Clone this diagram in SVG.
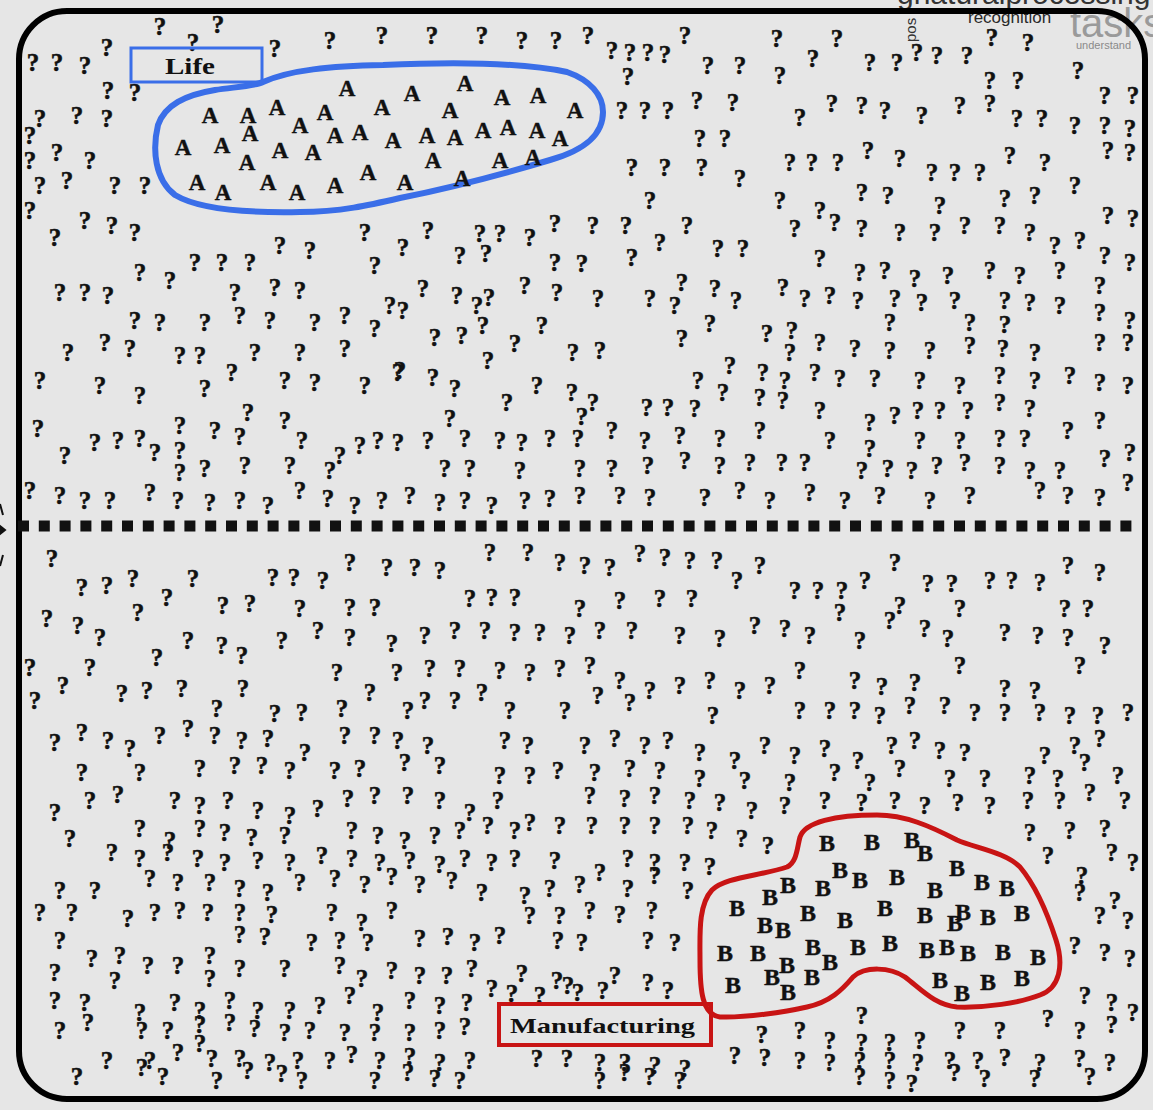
<svg xmlns="http://www.w3.org/2000/svg" width="1153" height="1110" viewBox="0 0 1153 1110">
<style>
.q text{font-family:"Liberation Serif","DejaVu Serif",serif;font-weight:bold;font-size:25px;fill:#111;stroke:#111;stroke-width:0.5;text-anchor:middle}
.a text{font-family:"Liberation Serif","DejaVu Serif",serif;font-weight:bold;font-size:23px;fill:#111;stroke:#111;stroke-width:0.4;text-anchor:middle}
.b text{font-family:"Liberation Serif","DejaVu Serif",serif;font-weight:bold;font-size:24px;fill:#111;stroke:#111;stroke-width:0.4;text-anchor:middle}
.lbl{font-family:"Liberation Serif","DejaVu Serif",serif;font-weight:bold;fill:#111}
.ov{font-family:"Liberation Sans","DejaVu Sans",sans-serif}
</style>
<rect x="0" y="0" width="1153" height="1110" fill="#e6e6e6"/>
<g id="overlay-text">
<text class="ov" x="897" y="4" font-size="30" fill="#333">gnaturalprocessing</text>
<text class="ov" x="968" y="23" font-size="17" fill="#2a2a2a">recognition</text>
<text class="ov" x="1070" y="37" font-size="40" fill="#9a9a9a">tasks</text>
<text class="ov" x="1076" y="49" font-size="11" fill="#8a8a8a">understand</text>
<text class="ov" transform="translate(916,42) rotate(-90)" font-size="15" fill="#333">pos</text>
</g>
<g id="left-marks" fill="none" stroke="#111" stroke-width="2">
<path d="M0,504 L3,515"/>
<path d="M0,526 L5,530 L0,534 Z" fill="#111"/>
<path d="M0,566 L3,555"/>
</g>
<g id="frame">
<rect x="19" y="11" width="1126" height="1088" rx="48" fill="none" stroke="#000" stroke-width="6"/>
</g>
<g id="divider">
<line x1="18" y1="526" x2="1140" y2="526" stroke="#111" stroke-width="11" stroke-dasharray="11 9.8"/>
</g>
<g id="unknown-words" class="q" transform="translate(0,9)">
<text x="160" y="26">?</text><text x="218" y="24">?</text><text x="107" y="47">?</text><text x="193" y="42">?</text><text x="275" y="48">?</text><text x="330" y="40">?</text><text x="382" y="35">?</text><text x="432" y="35">?</text><text x="482" y="35">?</text><text x="522" y="40">?</text><text x="556" y="40">?</text><text x="588" y="35">?</text><text x="612" y="50">?</text><text x="630" y="52">?</text><text x="648" y="52">?</text><text x="665" y="54">?</text><text x="685" y="35">?</text><text x="708" y="65">?</text><text x="740" y="65">?</text><text x="780" y="75">?</text><text x="777" y="38">?</text><text x="813" y="58">?</text><text x="837" y="38">?</text><text x="870" y="62">?</text><text x="897" y="62">?</text><text x="917" y="52">?</text><text x="937" y="55">?</text><text x="967" y="55">?</text><text x="992" y="37">?</text><text x="1028" y="42">?</text><text x="990" y="80">?</text><text x="1018" y="80">?</text><text x="1078" y="70">?</text><text x="33" y="62">?</text><text x="57" y="62">?</text><text x="85" y="65">?</text><text x="108" y="90">?</text><text x="135" y="92">?</text><text x="40" y="118">?</text><text x="77" y="115">?</text><text x="107" y="118">?</text><text x="628" y="76">?</text>
<text x="622" y="110">?</text><text x="645" y="110">?</text><text x="668" y="110">?</text><text x="697" y="100">?</text><text x="733" y="102">?</text><text x="800" y="117">?</text><text x="832" y="103">?</text><text x="862" y="105">?</text><text x="885" y="110">?</text><text x="922" y="115">?</text><text x="960" y="105">?</text><text x="990" y="103">?</text><text x="1017" y="118">?</text><text x="1042" y="118">?</text><text x="1075" y="125">?</text><text x="1105" y="95">?</text><text x="1133" y="95">?</text><text x="1105" y="125">?</text><text x="1130" y="128">?</text>
<text x="700" y="138">?</text><text x="725" y="138">?</text><text x="632" y="167">?</text><text x="665" y="167">?</text><text x="702" y="167">?</text><text x="740" y="178">?</text><text x="790" y="162">?</text><text x="812" y="162">?</text><text x="838" y="162">?</text><text x="868" y="150">?</text><text x="900" y="158">?</text><text x="932" y="172">?</text><text x="955" y="172">?</text><text x="980" y="172">?</text><text x="1010" y="155">?</text><text x="1045" y="162">?</text><text x="1108" y="150">?</text><text x="1130" y="152">?</text>
<text x="862" y="192">?</text><text x="888" y="195">?</text><text x="1005" y="198">?</text><text x="1035" y="195">?</text><text x="1075" y="185">?</text><text x="1108" y="215">?</text><text x="1133" y="218">?</text><text x="650" y="200">?</text><text x="780" y="200">?</text><text x="820" y="210">?</text><text x="940" y="205">?</text>
<text x="30" y="135">?</text><text x="30" y="160">?</text><text x="57" y="152">?</text><text x="90" y="160">?</text><text x="40" y="185">?</text><text x="67" y="180">?</text><text x="115" y="185">?</text><text x="145" y="185">?</text><text x="30" y="210">?</text>
<text x="55" y="237">?</text><text x="85" y="220">?</text><text x="112" y="225">?</text><text x="135" y="232">?</text><text x="365" y="232">?</text><text x="195" y="262">?</text><text x="222" y="262">?</text><text x="250" y="262">?</text><text x="280" y="245">?</text><text x="310" y="250">?</text><text x="375" y="265">?</text><text x="140" y="272">?</text><text x="170" y="280">?</text><text x="60" y="292">?</text><text x="85" y="292">?</text><text x="108" y="295">?</text><text x="275" y="287">?</text><text x="300" y="290">?</text><text x="235" y="292">?</text><text x="390" y="305">?</text>
<text x="135" y="320">?</text><text x="160" y="322">?</text><text x="205" y="322">?</text><text x="240" y="315">?</text><text x="270" y="320">?</text><text x="315" y="322">?</text><text x="345" y="315">?</text><text x="375" y="328">?</text><text x="68" y="352">?</text><text x="105" y="342">?</text><text x="130" y="348">?</text><text x="180" y="355">?</text><text x="200" y="355">?</text><text x="255" y="352">?</text><text x="345" y="348">?</text><text x="300" y="352">?</text>
<text x="205" y="388">?</text><text x="232" y="372">?</text><text x="285" y="380">?</text><text x="315" y="382">?</text><text x="365" y="385">?</text><text x="398" y="372">?</text><text x="40" y="380">?</text><text x="100" y="385">?</text><text x="140" y="395">?</text><text x="248" y="412">?</text><text x="285" y="420">?</text><text x="302" y="440">?</text><text x="38" y="428">?</text><text x="180" y="425">?</text><text x="215" y="430">?</text><text x="240" y="436">?</text>
<text x="65" y="455">?</text><text x="95" y="442">?</text><text x="118" y="440">?</text><text x="140" y="438">?</text><text x="155" y="452">?</text><text x="180" y="450">?</text><text x="340" y="455">?</text><text x="360" y="445">?</text><text x="378" y="440">?</text><text x="398" y="442">?</text><text x="180" y="472">?</text><text x="205" y="468">?</text><text x="245" y="465">?</text><text x="290" y="465">?</text><text x="330" y="470">?</text>
<text x="30" y="490">?</text><text x="60" y="495">?</text><text x="85" y="500">?</text><text x="110" y="500">?</text><text x="150" y="492">?</text><text x="178" y="500">?</text><text x="210" y="502">?</text><text x="240" y="500">?</text><text x="268" y="505">?</text><text x="300" y="490">?</text><text x="328" y="498">?</text><text x="355" y="505">?</text><text x="382" y="500">?</text>
<text x="428" y="230">?</text><text x="403" y="247">?</text><text x="480" y="233">?</text><text x="500" y="233">?</text><text x="530" y="237">?</text><text x="555" y="223">?</text><text x="593" y="225">?</text><text x="626" y="225">?</text><text x="687" y="225">?</text><text x="795" y="228">?</text><text x="460" y="255">?</text><text x="486" y="253">?</text><text x="555" y="262">?</text><text x="582" y="263">?</text><text x="632" y="257">?</text><text x="660" y="242">?</text><text x="718" y="248">?</text><text x="743" y="248">?</text>
<text x="423" y="288">?</text><text x="457" y="295">?</text><text x="477" y="305">?</text><text x="489" y="297">?</text><text x="525" y="285">?</text><text x="557" y="292">?</text><text x="598" y="298">?</text><text x="650" y="298">?</text><text x="682" y="282">?</text><text x="675" y="305">?</text><text x="715" y="288">?</text><text x="736" y="300">?</text><text x="783" y="287">?</text><text x="403" y="310">?</text><text x="483" y="325">?</text><text x="542" y="325">?</text>
<text x="435" y="337">?</text><text x="462" y="335">?</text><text x="515" y="343">?</text><text x="710" y="323">?</text><text x="767" y="333">?</text><text x="792" y="330">?</text><text x="682" y="338">?</text><text x="573" y="352">?</text><text x="600" y="350">?</text><text x="488" y="360">?</text><text x="790" y="352">?</text><text x="730" y="365">?</text><text x="400" y="370">?</text><text x="433" y="377">?</text><text x="455" y="388">?</text><text x="537" y="385">?</text><text x="572" y="392">?</text><text x="593" y="402">?</text><text x="507" y="402">?</text>
<text x="698" y="380">?</text><text x="723" y="392">?</text><text x="763" y="372">?</text><text x="785" y="380">?</text><text x="760" y="397">?</text><text x="783" y="400">?</text><text x="647" y="407">?</text><text x="668" y="407">?</text><text x="695" y="408">?</text><text x="450" y="418">?</text><text x="582" y="416">?</text>
<text x="410" y="495">?</text><text x="440" y="502">?</text><text x="465" y="500">?</text><text x="492" y="505">?</text><text x="525" y="500">?</text><text x="550" y="498">?</text><text x="580" y="495">?</text><text x="428" y="440">?</text><text x="465" y="438">?</text><text x="500" y="440">?</text><text x="522" y="442">?</text><text x="550" y="438">?</text><text x="578" y="438">?</text><text x="612" y="430">?</text><text x="645" y="440">?</text>
<text x="445" y="468">?</text><text x="470" y="468">?</text><text x="520" y="470">?</text><text x="580" y="468">?</text><text x="612" y="468">?</text><text x="648" y="465">?</text><text x="685" y="460">?</text><text x="720" y="465">?</text><text x="750" y="462">?</text><text x="782" y="462">?</text><text x="620" y="495">?</text><text x="650" y="497">?</text><text x="705" y="497">?</text><text x="740" y="490">?</text><text x="770" y="500">?</text><text x="680" y="435">?</text><text x="720" y="438">?</text><text x="760" y="430">?</text>
<text x="835" y="222">?</text><text x="862" y="228">?</text><text x="900" y="232">?</text><text x="935" y="232">?</text><text x="965" y="225">?</text><text x="1000" y="225">?</text><text x="1030" y="232">?</text><text x="1055" y="245">?</text><text x="1080" y="240">?</text><text x="1105" y="255">?</text><text x="1130" y="262">?</text><text x="860" y="272">?</text><text x="885" y="270">?</text><text x="915" y="278">?</text><text x="948" y="275">?</text><text x="990" y="270">?</text><text x="1020" y="275">?</text><text x="1060" y="270">?</text><text x="1100" y="285">?</text><text x="820" y="258">?</text>
<text x="805" y="298">?</text><text x="830" y="295">?</text><text x="858" y="300">?</text><text x="895" y="298">?</text><text x="922" y="302">?</text><text x="955" y="300">?</text><text x="1005" y="300">?</text><text x="1030" y="302">?</text><text x="1060" y="305">?</text><text x="1100" y="312">?</text><text x="1130" y="320">?</text><text x="890" y="322">?</text><text x="970" y="322">?</text><text x="1005" y="324">?</text>
<text x="820" y="342">?</text><text x="855" y="348">?</text><text x="890" y="350">?</text><text x="930" y="350">?</text><text x="970" y="345">?</text><text x="1003" y="348">?</text><text x="1035" y="352">?</text><text x="1100" y="342">?</text><text x="1128" y="342">?</text><text x="815" y="372">?</text><text x="840" y="378">?</text><text x="875" y="378">?</text><text x="920" y="380">?</text><text x="960" y="385">?</text><text x="1000" y="375">?</text><text x="1035" y="380">?</text><text x="1070" y="375">?</text><text x="1100" y="382">?</text><text x="1128" y="385">?</text>
<text x="870" y="422">?</text><text x="895" y="415">?</text><text x="918" y="410">?</text><text x="940" y="410">?</text><text x="968" y="410">?</text><text x="1000" y="402">?</text><text x="1030" y="408">?</text><text x="820" y="410">?</text><text x="1000" y="438">?</text><text x="1025" y="438">?</text><text x="1068" y="430">?</text><text x="1105" y="458">?</text><text x="1130" y="452">?</text><text x="830" y="440">?</text><text x="870" y="448">?</text><text x="920" y="440">?</text><text x="960" y="440">?</text><text x="1100" y="420">?</text>
<text x="862" y="470">?</text><text x="888" y="468">?</text><text x="912" y="470">?</text><text x="937" y="465">?</text><text x="965" y="462">?</text><text x="1000" y="465">?</text><text x="1030" y="470">?</text><text x="1060" y="470">?</text><text x="805" y="462">?</text><text x="845" y="500">?</text><text x="880" y="495">?</text><text x="930" y="500">?</text><text x="970" y="495">?</text><text x="1040" y="490">?</text><text x="1068" y="495">?</text><text x="1100" y="497">?</text><text x="1128" y="482">?</text><text x="810" y="492">?</text>
<text x="52" y="558">?</text><text x="82" y="587">?</text><text x="107" y="585">?</text><text x="133" y="578">?</text><text x="193" y="578">?</text><text x="167" y="597">?</text><text x="273" y="577">?</text><text x="294" y="577">?</text><text x="323" y="580">?</text><text x="350" y="562">?</text><text x="387" y="567">?</text><text x="415" y="567">?</text><text x="47" y="618">?</text><text x="78" y="625">?</text><text x="100" y="637">?</text><text x="138" y="612">?</text><text x="223" y="605">?</text><text x="250" y="603">?</text><text x="300" y="608">?</text><text x="350" y="607">?</text><text x="375" y="607">?</text>
<text x="188" y="640">?</text><text x="222" y="645">?</text><text x="242" y="655">?</text><text x="282" y="640">?</text><text x="318" y="630">?</text><text x="350" y="637">?</text><text x="392" y="643">?</text><text x="30" y="667">?</text><text x="90" y="667">?</text><text x="157" y="657">?</text><text x="337" y="672">?</text><text x="397" y="672">?</text><text x="63" y="685">?</text><text x="35" y="700">?</text><text x="122" y="693">?</text><text x="147" y="690">?</text><text x="182" y="688">?</text><text x="243" y="688">?</text><text x="217" y="708">?</text><text x="275" y="713">?</text><text x="302" y="712">?</text><text x="342" y="708">?</text><text x="370" y="692">?</text><text x="408" y="710">?</text>
<text x="490" y="552">?</text><text x="528" y="552">?</text><text x="560" y="562">?</text><text x="585" y="565">?</text><text x="610" y="567">?</text><text x="640" y="553">?</text><text x="665" y="557">?</text><text x="690" y="560">?</text><text x="717" y="560">?</text><text x="760" y="565">?</text><text x="795" y="590">?</text><text x="818" y="590">?</text><text x="842" y="590">?</text><text x="865" y="580">?</text><text x="895" y="562">?</text><text x="928" y="583">?</text><text x="952" y="583">?</text><text x="990" y="580">?</text><text x="1012" y="580">?</text><text x="1040" y="582">?</text><text x="1068" y="565">?</text><text x="1100" y="572">?</text>
<text x="440" y="570">?</text><text x="470" y="598">?</text><text x="492" y="597">?</text><text x="515" y="597">?</text><text x="660" y="598">?</text><text x="692" y="598">?</text><text x="737" y="580">?</text><text x="1065" y="608">?</text><text x="1088" y="608">?</text><text x="580" y="608">?</text><text x="620" y="600">?</text><text x="900" y="605">?</text><text x="960" y="608">?</text><text x="840" y="612">?</text>
<text x="425" y="635">?</text><text x="455" y="630">?</text><text x="485" y="630">?</text><text x="515" y="632">?</text><text x="540" y="632">?</text><text x="570" y="635">?</text><text x="600" y="630">?</text><text x="632" y="630">?</text><text x="680" y="635">?</text><text x="720" y="638">?</text><text x="755" y="625">?</text><text x="785" y="628">?</text><text x="810" y="635">?</text><text x="860" y="640">?</text><text x="890" y="620">?</text><text x="925" y="628">?</text><text x="948" y="638">?</text><text x="1005" y="632">?</text><text x="1038" y="635">?</text><text x="1068" y="637">?</text><text x="1105" y="645">?</text>
<text x="430" y="668">?</text><text x="460" y="668">?</text><text x="500" y="670">?</text><text x="530" y="672">?</text><text x="560" y="668">?</text><text x="590" y="665">?</text><text x="620" y="680">?</text><text x="650" y="690">?</text><text x="680" y="685">?</text><text x="710" y="680">?</text><text x="740" y="690">?</text><text x="770" y="685">?</text><text x="800" y="670">?</text><text x="855" y="680">?</text><text x="882" y="686">?</text><text x="915" y="682">?</text><text x="1005" y="688">?</text><text x="1035" y="690">?</text><text x="1080" y="665">?</text><text x="960" y="665">?</text>
<text x="425" y="700">?</text><text x="455" y="700">?</text><text x="482" y="692">?</text><text x="510" y="710">?</text><text x="565" y="710">?</text><text x="598" y="695">?</text><text x="630" y="702">?</text><text x="713" y="715">?</text><text x="800" y="710">?</text><text x="830" y="710">?</text><text x="855" y="710">?</text><text x="880" y="715">?</text><text x="910" y="705">?</text><text x="945" y="705">?</text><text x="975" y="712">?</text><text x="1005" y="712">?</text><text x="1040" y="712">?</text><text x="1070" y="715">?</text><text x="1098" y="715">?</text><text x="1128" y="712">?</text>
<text x="55" y="742">?</text><text x="82" y="732">?</text><text x="108" y="740">?</text><text x="130" y="748">?</text><text x="160" y="735">?</text><text x="188" y="728">?</text><text x="215" y="735">?</text><text x="242" y="740">?</text><text x="268" y="738">?</text><text x="305" y="752">?</text><text x="345" y="735">?</text><text x="375" y="735">?</text><text x="398" y="740">?</text><text x="428" y="745">?</text><text x="505" y="740">?</text><text x="528" y="745">?</text><text x="585" y="745">?</text><text x="615" y="738">?</text><text x="645" y="745">?</text><text x="668" y="740">?</text><text x="700" y="752">?</text><text x="735" y="760">?</text><text x="765" y="745">?</text><text x="795" y="755">?</text><text x="825" y="748">?</text><text x="858" y="760">?</text><text x="892" y="745">?</text><text x="915" y="740">?</text><text x="940" y="750">?</text><text x="965" y="752">?</text><text x="1045" y="755">?</text><text x="1075" y="745">?</text><text x="1100" y="738">?</text>
<text x="82" y="772">?</text><text x="140" y="772">?</text><text x="200" y="768">?</text><text x="235" y="765">?</text><text x="262" y="765">?</text><text x="290" y="770">?</text><text x="335" y="770">?</text><text x="360" y="768">?</text><text x="405" y="762">?</text><text x="440" y="765">?</text><text x="500" y="775">?</text><text x="530" y="775">?</text><text x="558" y="770">?</text><text x="595" y="772">?</text><text x="630" y="768">?</text><text x="660" y="770">?</text><text x="700" y="778">?</text><text x="745" y="780">?</text><text x="790" y="782">?</text><text x="835" y="772">?</text><text x="870" y="782">?</text><text x="900" y="768">?</text><text x="950" y="778">?</text><text x="985" y="778">?</text><text x="1030" y="775">?</text><text x="1058" y="778">?</text><text x="1085" y="762">?</text><text x="1118" y="775">?</text>
<text x="55" y="812">?</text><text x="90" y="800">?</text><text x="118" y="794">?</text><text x="175" y="800">?</text><text x="200" y="805">?</text><text x="228" y="800">?</text><text x="258" y="810">?</text><text x="290" y="815">?</text><text x="318" y="808">?</text><text x="348" y="798">?</text><text x="375" y="795">?</text><text x="408" y="795">?</text><text x="440" y="800">?</text><text x="470" y="812">?</text><text x="498" y="800">?</text><text x="530" y="822">?</text><text x="560" y="825">?</text><text x="590" y="795">?</text><text x="625" y="798">?</text><text x="655" y="795">?</text><text x="690" y="800">?</text><text x="720" y="802">?</text><text x="752" y="810">?</text><text x="785" y="805">?</text><text x="825" y="800">?</text><text x="862" y="802">?</text><text x="895" y="800">?</text><text x="925" y="805">?</text><text x="958" y="802">?</text><text x="990" y="805">?</text><text x="1028" y="800">?</text><text x="1060" y="800">?</text><text x="1090" y="792">?</text><text x="1125" y="800">?</text>
<text x="70" y="838">?</text><text x="112" y="852">?</text><text x="140" y="828">?</text><text x="170" y="840">?</text><text x="200" y="828">?</text><text x="225" y="832">?</text><text x="252" y="837">?</text><text x="285" y="835">?</text><text x="352" y="830">?</text><text x="378" y="835">?</text><text x="405" y="840">?</text><text x="435" y="835">?</text><text x="460" y="830">?</text><text x="488" y="825">?</text><text x="515" y="830">?</text><text x="592" y="825">?</text><text x="625" y="825">?</text><text x="655" y="825">?</text><text x="688" y="825">?</text><text x="712" y="830">?</text><text x="742" y="838">?</text><text x="768" y="845">?</text><text x="1030" y="832">?</text><text x="1070" y="830">?</text><text x="1105" y="828">?</text>
<text x="140" y="858">?</text><text x="168" y="852">?</text><text x="198" y="858">?</text><text x="225" y="862">?</text><text x="258" y="860">?</text><text x="290" y="862">?</text><text x="322" y="855">?</text><text x="352" y="858">?</text><text x="380" y="862">?</text><text x="410" y="860">?</text><text x="440" y="864">?</text><text x="465" y="858">?</text><text x="492" y="862">?</text><text x="515" y="858">?</text><text x="555" y="860">?</text><text x="600" y="872">?</text><text x="628" y="858">?</text><text x="655" y="862">?</text><text x="685" y="862">?</text><text x="710" y="866">?</text><text x="1048" y="855">?</text><text x="1082" y="875">?</text><text x="1112" y="852">?</text><text x="1133" y="862">?</text>
<text x="60" y="890">?</text><text x="95" y="890">?</text><text x="150" y="878">?</text><text x="178" y="882">?</text><text x="210" y="882">?</text><text x="240" y="888">?</text><text x="268" y="892">?</text><text x="300" y="882">?</text><text x="335" y="878">?</text><text x="365" y="884">?</text><text x="392" y="876">?</text><text x="420" y="884">?</text><text x="452" y="880">?</text><text x="482" y="892">?</text><text x="525" y="895">?</text><text x="550" y="888">?</text><text x="580" y="884">?</text><text x="628" y="888">?</text><text x="655" y="875">?</text><text x="688" y="890">?</text><text x="1080" y="892">?</text><text x="1115" y="900">?</text>
<text x="40" y="912">?</text><text x="72" y="912">?</text><text x="128" y="918">?</text><text x="155" y="912">?</text><text x="180" y="910">?</text><text x="208" y="912">?</text><text x="240" y="912">?</text><text x="272" y="914">?</text><text x="332" y="912">?</text><text x="362" y="922">?</text><text x="392" y="910">?</text><text x="530" y="915">?</text><text x="560" y="915">?</text><text x="590" y="910">?</text><text x="620" y="914">?</text><text x="652" y="910">?</text><text x="1100" y="915">?</text><text x="1128" y="920">?</text>
<text x="60" y="940">?</text><text x="92" y="958">?</text><text x="120" y="955">?</text><text x="148" y="965">?</text><text x="178" y="965">?</text><text x="210" y="955">?</text><text x="240" y="934">?</text><text x="265" y="936">?</text><text x="285" y="968">?</text><text x="312" y="942">?</text><text x="340" y="940">?</text><text x="368" y="942">?</text><text x="420" y="938">?</text><text x="448" y="936">?</text><text x="475" y="942">?</text><text x="500" y="935">?</text><text x="558" y="940">?</text><text x="582" y="942">?</text><text x="648" y="940">?</text><text x="675" y="942">?</text><text x="1075" y="945">?</text><text x="1105" y="952">?</text><text x="1130" y="958">?</text>
<text x="55" y="972">?</text><text x="240" y="968">?</text><text x="340" y="965">?</text><text x="362" y="978">?</text><text x="392" y="970">?</text><text x="420" y="975">?</text><text x="447" y="975">?</text><text x="472" y="968">?</text><text x="492" y="988">?</text><text x="512" y="993">?</text><text x="522" y="973">?</text><text x="540" y="995">?</text><text x="557" y="980">?</text><text x="568" y="985">?</text><text x="578" y="992">?</text><text x="603" y="990">?</text><text x="615" y="975">?</text><text x="648" y="982">?</text><text x="668" y="990">?</text><text x="210" y="978">?</text><text x="115" y="980">?</text>
<text x="55" y="1000">?</text><text x="85" y="1002">?</text><text x="140" y="1012">?</text><text x="175" y="1002">?</text><text x="200" y="1010">?</text><text x="230" y="1000">?</text><text x="258" y="1010">?</text><text x="290" y="1010">?</text><text x="320" y="1005">?</text><text x="350" y="995">?</text><text x="378" y="1012">?</text><text x="410" y="1000">?</text><text x="440" y="1005">?</text><text x="467" y="1002">?</text><text x="862" y="1015">?</text><text x="1085" y="995">?</text><text x="1112" y="1002">?</text><text x="1133" y="1012">?</text>
<text x="60" y="1030">?</text><text x="88" y="1022">?</text><text x="142" y="1030">?</text><text x="168" y="1030">?</text><text x="200" y="1024">?</text><text x="230" y="1022">?</text><text x="255" y="1028">?</text><text x="285" y="1032">?</text><text x="310" y="1030">?</text><text x="345" y="1032">?</text><text x="375" y="1032">?</text><text x="410" y="1032">?</text><text x="440" y="1030">?</text><text x="465" y="1026">?</text><text x="762" y="1034">?</text><text x="800" y="1030">?</text><text x="830" y="1040">?</text><text x="862" y="1042">?</text><text x="890" y="1042">?</text><text x="920" y="1040">?</text><text x="960" y="1030">?</text><text x="1000" y="1030">?</text><text x="1048" y="1018">?</text><text x="1080" y="1030">?</text><text x="1112" y="1024">?</text>
<text x="200" y="1043">?</text><text x="107" y="1060">?</text><text x="150" y="1060">?</text><text x="178" y="1052">?</text><text x="212" y="1058">?</text><text x="240" y="1058">?</text><text x="270" y="1062">?</text><text x="298" y="1060">?</text><text x="330" y="1060">?</text><text x="352" y="1054">?</text><text x="380" y="1060">?</text><text x="410" y="1056">?</text><text x="440" y="1062">?</text><text x="470" y="1060">?</text><text x="537" y="1058">?</text><text x="567" y="1058">?</text><text x="600" y="1062">?</text><text x="625" y="1062">?</text><text x="655" y="1065">?</text><text x="685" y="1068">?</text><text x="735" y="1055">?</text><text x="765" y="1057">?</text><text x="800" y="1060">?</text><text x="830" y="1062">?</text><text x="860" y="1060">?</text><text x="890" y="1060">?</text><text x="918" y="1062">?</text><text x="950" y="1060">?</text><text x="978" y="1060">?</text><text x="1005" y="1057">?</text><text x="1040" y="1062">?</text><text x="1080" y="1058">?</text><text x="1110" y="1062">?</text>
<text x="77" y="1076">?</text><text x="142" y="1067">?</text><text x="163" y="1076">?</text><text x="217" y="1080">?</text><text x="248" y="1070">?</text><text x="282" y="1073">?</text><text x="302" y="1080">?</text><text x="375" y="1080">?</text><text x="408" y="1072">?</text><text x="435" y="1078">?</text><text x="460" y="1080">?</text><text x="600" y="1080">?</text><text x="625" y="1072">?</text><text x="650" y="1076">?</text><text x="680" y="1080">?</text><text x="860" y="1076">?</text><text x="890" y="1080">?</text><text x="912" y="1083">?</text><text x="955" y="1072">?</text><text x="985" y="1078">?</text><text x="1035" y="1078">?</text><text x="1090" y="1076">?</text>
</g>
<g id="life-label">
<rect x="131" y="48" width="131" height="34" fill="none" stroke="#3a6ee8" stroke-width="3"/>
<text class="lbl" x="165" y="74" font-size="23" textLength="50" lengthAdjust="spacingAndGlyphs">Life</text>
</g>
<g id="life-cluster">
<path d="M263,82 C290,70 330,66 383,65 C450,62 520,62 567,72 C590,80 603,95 603,112 C603,135 585,150 550,160 C500,175 440,190 400,198 C370,205 340,212 300,212 C250,213 200,210 175,195 C155,180 152,150 158,125 C165,105 185,95 215,90 C235,87 255,86 263,82 Z" fill="none" stroke="#3a6ee8" stroke-width="6" stroke-linejoin="round"/>
<g class="a" transform="translate(0,8)">
<text x="347" y="88">A</text><text x="412" y="93">A</text><text x="465" y="83">A</text><text x="502" y="97">A</text><text x="538" y="95">A</text><text x="575" y="110">A</text><text x="210" y="115">A</text><text x="248" y="115">A</text><text x="277" y="107">A</text><text x="300" y="125">A</text><text x="325" y="112">A</text><text x="382" y="107">A</text><text x="450" y="110">A</text>
<text x="250" y="133">A</text><text x="335" y="135">A</text><text x="360" y="132">A</text><text x="393" y="140">A</text><text x="427" y="135">A</text><text x="455" y="137">A</text><text x="483" y="130">A</text><text x="508" y="127">A</text><text x="537" y="130">A</text><text x="560" y="138">A</text>
<text x="183" y="147">A</text><text x="222" y="145">A</text><text x="280" y="150">A</text><text x="313" y="152">A</text><text x="247" y="162">A</text><text x="433" y="160">A</text><text x="500" y="160">A</text><text x="533" y="157">A</text>
<text x="197" y="182">A</text><text x="223" y="192">A</text><text x="268" y="182">A</text><text x="297" y="192">A</text><text x="335" y="185">A</text><text x="368" y="172">A</text><text x="405" y="182">A</text><text x="462" y="178">A</text>
</g>
</g>
<g id="manufacturing-cluster">
<path d="M800,837 C805,822 835,815 877,815 C905,815 930,826 957,840 C975,848 1005,852 1020,867 C1035,885 1048,915 1056,940 C1064,965 1060,988 1040,995 C1020,1003 985,1008 957,1007 C935,1005 922,990 905,977 C890,967 865,966 853,977 C842,990 830,1002 807,1007 C785,1012 745,1018 720,1017 C702,1015 700,990 700,960 C700,935 698,905 712,890 C725,877 760,876 787,867 C797,862 797,848 800,837 Z" fill="none" stroke="#c81414" stroke-width="5" stroke-linejoin="round"/>
<g class="b" transform="translate(0,8)">
<text x="827" y="843">B</text><text x="872" y="842">B</text><text x="912" y="840">B</text><text x="925" y="853">B</text><text x="957" y="868">B</text><text x="982" y="882">B</text><text x="1007" y="888">B</text><text x="840" y="870">B</text><text x="860" y="880">B</text><text x="897" y="877">B</text><text x="935" y="890">B</text><text x="788" y="885">B</text><text x="770" y="897">B</text><text x="823" y="888">B</text>
<text x="737" y="908">B</text><text x="765" y="925">B</text><text x="783" y="930">B</text><text x="808" y="913">B</text><text x="845" y="920">B</text><text x="885" y="908">B</text><text x="925" y="915">B</text><text x="963" y="912">B</text><text x="955" y="923">B</text><text x="988" y="917">B</text><text x="1022" y="913">B</text>
<text x="725" y="953">B</text><text x="758" y="953">B</text><text x="787" y="965">B</text><text x="813" y="947">B</text><text x="830" y="962">B</text><text x="858" y="947">B</text><text x="890" y="943">B</text><text x="927" y="950">B</text><text x="947" y="947">B</text><text x="968" y="953">B</text><text x="1003" y="952">B</text><text x="1038" y="957">B</text>
<text x="733" y="985">B</text><text x="772" y="977">B</text><text x="812" y="977">B</text><text x="788" y="992">B</text><text x="940" y="980">B</text><text x="962" y="993">B</text><text x="988" y="982">B</text><text x="1022" y="978">B</text>
</g>
</g>
<g id="manufacturing-label">
<rect x="499" y="1004" width="212" height="41" fill="none" stroke="#c81414" stroke-width="4"/>
<text class="lbl" x="510" y="1033" font-size="22" textLength="185" lengthAdjust="spacingAndGlyphs">Manufacturing</text>
</g>
</svg>
